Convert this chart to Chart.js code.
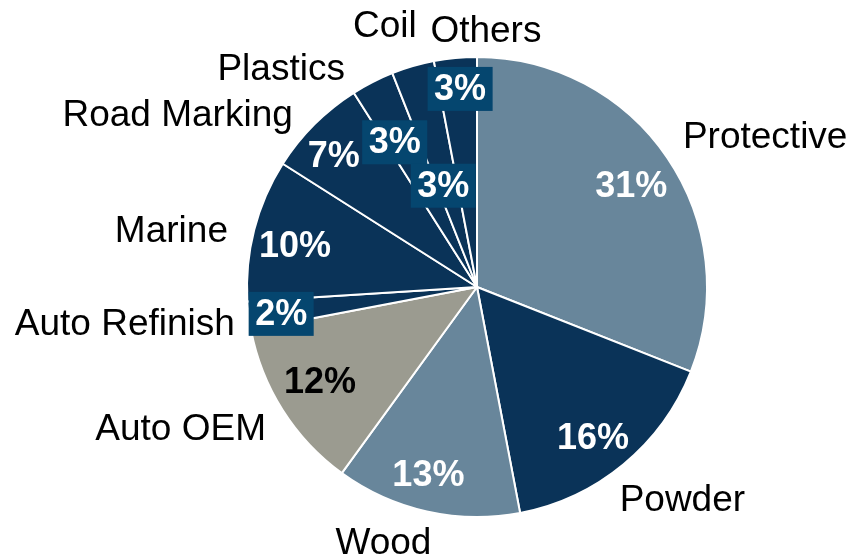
<!DOCTYPE html>
<html>
<head>
<meta charset="utf-8">
<script src="https://cdn.jsdelivr.net/npm/chart.js@4/dist/chart.umd.min.js"></script>
<style>
  html, body { margin: 0; padding: 0; background: #fff; }
  #wrap { width: 849px; height: 559px; position: relative; }
</style>
</head>
<body>
<div id="wrap"><canvas id="pie"></canvas></div>
<script>
// market split by segment, clockwise from 12 o'clock
const segments = ["Protective", "Powder", "Wood", "Auto OEM", "Auto Refinish", "Marine", "Road Marking", "Plastics", "Coil", "Others"];
const shares = [31, 16, 13, 12, 2, 10, 7, 3, 3, 3];

const NAVY = "#0a3358";
const STEEL = "#68869b";
const GREY = "#9b9b90";
const BOX = "#05466f";

const sliceColors = [STEEL, NAVY, STEEL, GREY, NAVY, NAVY, NAVY, NAVY, NAVY, NAVY];
const pctColors = ["#fff", "#fff", "#fff", "#000", "#fff", "#fff", "#fff", "#fff", "#fff", "#fff"];
const pctBoxed = [false, false, false, false, true, false, false, true, true, true];

// label placement: [angle shift in degrees from slice middle, radius factor]
const pctPlace = [[1.2, 0.80], [2.2, 0.83], [1.8, 0.85], [1, 0.80], [-0.9, 0.86], [-2, 0.81], [-2.9, 0.84], [-2.8, 0.72], [-2.4, 0.46], [0.5, 0.86]];
const namePlace = [[6.9, 1.41], [-4.2, 1.29], [7.4, 1.19], [6.7, 1.43], [1.1, 1.54], [-4.2, 1.35], [-15.2, 1.50], [-15.1, 1.27], [-3.3, 1.20], [7.4, 1.11]];

const labelPlugin = {
  id: "sliceLabels",
  afterDatasetsDraw(chart) {
    const ctx = chart.ctx;
    const arcs = chart.getDatasetMeta(0).data;
    const posAt = (arc, place) => {
      const p = arc.getProps(["x", "y", "startAngle", "endAngle", "outerRadius"], true);
      const a = (p.startAngle + p.endAngle) / 2 + place[0] * Math.PI / 180;
      const r = p.outerRadius * place[1];
      return { x: p.x + Math.cos(a) * r, y: p.y + Math.sin(a) * r };
    };
    ctx.save();
    ctx.textAlign = "center";
    ctx.textBaseline = "middle";

    // percentage labels
    ctx.font = "bold 36px 'Liberation Sans', Arial, sans-serif";
    arcs.forEach((arc, i) => {
      const pos = posAt(arc, pctPlace[i]);
      const txt = shares[i] + "%";
      if (pctBoxed[i]) {
        const w = ctx.measureText(txt).width + 13;
        const h = 44;
        ctx.fillStyle = BOX;
        ctx.fillRect(pos.x - w / 2, pos.y - h / 2 - 1, w, h);
      }
      ctx.fillStyle = pctColors[i];
      ctx.fillText(txt, pos.x, pos.y);
    });

    // segment names outside the pie
    ctx.font = "37px 'Liberation Sans', Arial, sans-serif";
    ctx.fillStyle = "#000";
    arcs.forEach((arc, i) => {
      const pos = posAt(arc, namePlace[i]);
      ctx.fillText(segments[i], pos.x, pos.y);
    });
    ctx.restore();
  }
};

new Chart(document.getElementById("pie"), {
  type: "pie",
  data: {
    labels: segments,
    datasets: [{
      data: shares,
      backgroundColor: sliceColors,
      borderColor: "#fff",
      borderWidth: 2
    }]
  },
  options: {
    responsive: true,
    maintainAspectRatio: false,
    animation: false,
    layout: { padding: { top: 56, bottom: 41, left: 246, right: 141 } },
    plugins: {
      legend: { display: false },
      tooltip: { enabled: false }
    }
  },
  plugins: [labelPlugin]
});
</script>
</body>
</html>
